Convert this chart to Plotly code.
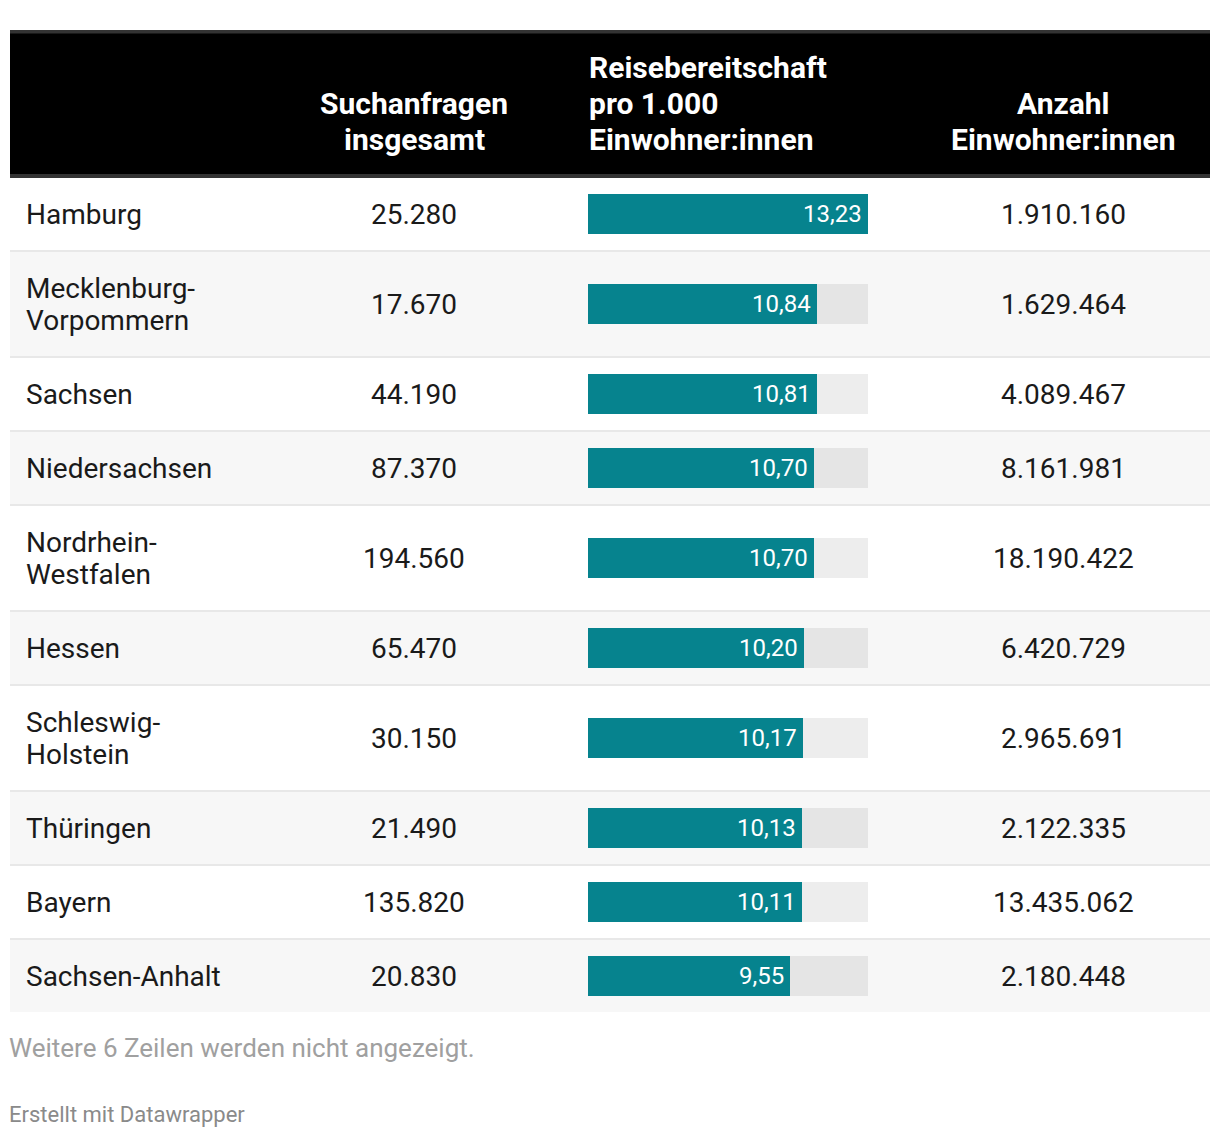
import plotly.graph_objects as go

# ---------------- data ----------------
states = ["Hamburg", "Mecklenburg-\nVorpommern", "Sachsen", "Niedersachsen",
          "Nordrhein-\nWestfalen", "Hessen", "Schleswig-\nHolstein", "Thüringen",
          "Bayern", "Sachsen-Anhalt"]
searches = [25280, 17670, 44190, 87370, 194560, 65470, 30150, 21490, 135820, 20830]
readiness = [13.23, 10.84, 10.81, 10.70, 10.70, 10.20, 10.17, 10.13, 10.11, 9.55]
population = [1910160, 1629464, 4089467, 8161981, 18190422, 6420729, 2965691,
              2122335, 13435062, 2180448]
headers = ["", "Suchanfragen\ninsgesamt", "Reisebereitschaft\npro 1.000\nEinwohner:innen",
           "Anzahl\nEinwohner:innen"]
note = "Weitere 6 Zeilen werden nicht angezeigt."
credit = "Erstellt mit Datawrapper"

# ---------------- layout constants (page pixels) ----------------
W, H = 1220, 1138
OFF = 8                   # page body margin around the plot div
LEFT, RIGHT = 10, 1210
HEAD_TOP, HEAD_BOT = 30, 178
ROW1, ROW2 = 72, 104      # content heights single / double-line rows
SEP = 2
BAR_X0, BAR_X1 = 588, 868
BAR_H = 40
FONT = "Roboto, 'Noto Sans', sans-serif"
TXT = "#1a1a1a"
BODY_SIZE = 28
HEAD_SIZE = 30


def de_int(v):
    return f"{v:,}".replace(",", ".")


def de_dec(v):
    return f"{v:.2f}".replace(".", ",")


def px(x):
    return (x - OFF) / W


# compute row extents
rows = []
y = HEAD_BOT
for i, s in enumerate(states):
    if i > 0:
        y += SEP
    h = ROW2 if "\n" in s else ROW1
    rows.append((y, y + h))
    y += h
centers = [(a + b) / 2 for a, b in rows]

shapes = []
annotations = []

# row backgrounds + separators
for i, (a, b) in enumerate(rows):
    fill = "#ffffff" if i % 2 == 0 else "#f7f7f7"
    shapes.append(dict(type="rect", xref="paper", yref="y", x0=px(LEFT), x1=px(RIGHT),
                       y0=a, y1=b, fillcolor=fill, line_width=0, layer="below"))
    if i > 0:
        shapes.append(dict(type="rect", xref="paper", yref="y", x0=px(LEFT), x1=px(RIGHT),
                           y0=a - SEP, y1=a, fillcolor="#e8e8e8", line_width=0, layer="below"))

# header
shapes.append(dict(type="rect", xref="paper", yref="y", x0=px(LEFT), x1=px(RIGHT),
                   y0=HEAD_TOP, y1=HEAD_BOT, fillcolor="#000000", line_width=0, layer="below"))
shapes.append(dict(type="rect", xref="paper", yref="y", x0=px(LEFT), x1=px(RIGHT),
                   y0=HEAD_TOP, y1=HEAD_TOP + 3.5, fillcolor="#333333", line_width=0, layer="below"))
shapes.append(dict(type="rect", xref="paper", yref="y", x0=px(LEFT), x1=px(RIGHT),
                   y0=HEAD_BOT - 4, y1=HEAD_BOT, fillcolor="#333333", line_width=0, layer="below"))

# column anchors (left-anchored ones compensate annotation padding)
col_x = [(24, "left"), (414, "center"), (587, "left"), (1063, "center")]
HEAD_LH = 36
HEAD_LAST = 139
for (x, anchor), htxt in zip(col_x, headers):
    if not htxt:
        continue
    lines = htxt.split("\n")
    n = len(lines)
    for k, ln in enumerate(lines):
        yy = HEAD_LAST - (n - 1 - k) * HEAD_LH
        annotations.append(dict(xref="paper", yref="y", x=px(x), y=yy, text=f"<b>{ln}</b>",
                                showarrow=False, xanchor=anchor, yanchor="middle",
                                font=dict(family=FONT, size=HEAD_SIZE, color="#ffffff")))

ROW_LH = 32
for i, c in enumerate(centers):
    lines = states[i].split("\n")
    n = len(lines)
    for k, ln in enumerate(lines):
        yy = c + (k - (n - 1) / 2) * ROW_LH
        annotations.append(dict(xref="paper", yref="y", x=px(col_x[0][0]), y=yy, text=ln,
                                showarrow=False, xanchor="left", yanchor="middle",
                                font=dict(family=FONT, size=BODY_SIZE, color=TXT)))
    annotations.append(dict(xref="paper", yref="y", x=px(col_x[1][0]), y=c,
                            text=de_int(searches[i]), showarrow=False, xanchor="center",
                            yanchor="middle", font=dict(family=FONT, size=BODY_SIZE, color=TXT)))
    annotations.append(dict(xref="paper", yref="y", x=px(col_x[3][0]), y=c,
                            text=de_int(population[i]), showarrow=False, xanchor="center",
                            yanchor="middle", font=dict(family=FONT, size=BODY_SIZE, color=TXT)))
    # bar value label, placed at the bar end on the data axis
    annotations.append(dict(xref="x", yref="y", x=readiness[i], y=c, xshift=-4,
                            text=de_dec(readiness[i]), showarrow=False, xanchor="right",
                            yanchor="middle", font=dict(family=FONT, size=24, color="#ffffff")))

# footer
annotations.append(dict(xref="paper", yref="y", x=px(7), y=1048, text=note, showarrow=False,
                        xanchor="left", yanchor="middle",
                        font=dict(family=FONT, size=26, color="#a0a0a0")))
annotations.append(dict(xref="paper", yref="y", x=px(7), y=1114, text=credit, showarrow=False,
                        xanchor="left", yanchor="middle",
                        font=dict(family=FONT, size=22, color="#8a8a8a")))

vmax = max(readiness)
fig = go.Figure()
fig.add_trace(go.Bar(x=[vmax] * len(readiness), y=centers, orientation="h", width=BAR_H,
                     marker=dict(color="rgba(0,0,0,0.07)", line_width=0),
                     hoverinfo="skip", showlegend=False))
fig.add_trace(go.Bar(x=readiness, y=centers, orientation="h", width=BAR_H,
                     marker=dict(color="#06838e", line_width=0),
                     showlegend=False))

fig.update_layout(
    width=W, height=H, margin=dict(l=0, r=0, t=0, b=0),
    paper_bgcolor="#ffffff", plot_bgcolor="rgba(0,0,0,0)",
    barmode="overlay", bargap=0,
    xaxis=dict(domain=[px(BAR_X0), px(BAR_X1)], range=[0, vmax], visible=False, fixedrange=True),
    yaxis=dict(domain=[0, 1], range=[H + OFF, OFF], visible=False, fixedrange=True),
    shapes=shapes, annotations=annotations,
)

fig.write_html("out.html", config={"displayModeBar": False})
